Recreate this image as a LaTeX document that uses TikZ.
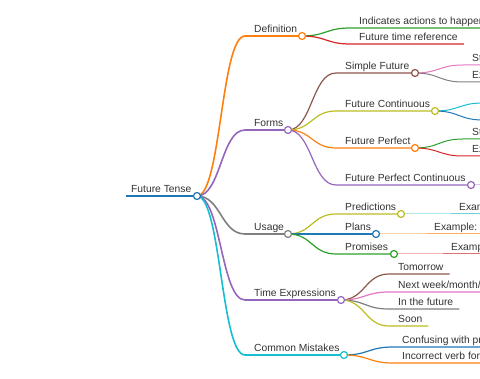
\documentclass[tikz,border=0pt]{standalone}
\usepackage{fontspec}
\setmainfont{Liberation Sans}
\usetikzlibrary{calc}

\definecolor{cblue}{HTML}{1F77B4}
\definecolor{corange}{HTML}{FF7F0E}
\definecolor{cgreen}{HTML}{2CA02C}
\definecolor{cred}{HTML}{D62728}
\definecolor{cpurple}{HTML}{9467BD}
\definecolor{cbrown}{HTML}{8C564B}
\definecolor{cpink}{HTML}{E377C2}
\definecolor{cgray}{HTML}{7F7F7F}
\definecolor{colive}{HTML}{BCBD22}
\definecolor{ccyan}{HTML}{17BECF}
\definecolor{ctext}{HTML}{333333}

\tikzset{
  lbl/.style={anchor=base west, inner sep=0pt, text=ctext, font=\fontsize{10.3}{12}\selectfont},
  dot/.style={circle, fill=white, inner sep=0pt, minimum size=7pt, line width=1.2pt}
}

% start of line, circle, label
\newcommand{\mmnode}[5]{%
  \coordinate (#1S) at (#2,#4);
  \coordinate (#1) at (#3,#4);
  \node[lbl] (#1T) at ($(#1S)+(9,-3.3)$) {#5};}
% leaf: line ends just after its label
\newcommand{\mmleaf}[4]{%
  \coordinate (#1S) at (#2,#3);
  \node[lbl] (#1T) at ($(#1S)+(9,-3.3)$) {#4};
  \path (#1S -| #1T.east) ++(6,0) coordinate (#1);}
% leaf whose label lies off the page
\newcommand{\mmend}[3]{%
  \coordinate (#1S) at (#2,#3);
  \coordinate (#1) at (540,#3);}
% curved link from a parent circle to a child line
\newcommand{\mmlink}[4]{%
  \coordinate (mid) at ($(#3)!0.5!(#4S)$);
  \draw[#1, line width=#2] (#3) .. controls (mid |- #3) and (mid |- #4S) .. (#4S) -- (#4);}

\begin{document}
\begin{tikzpicture}[x=1pt,y=-1pt]
    \useasboundingbox (0,0) rectangle (480,379);
    \clip (0,0) rectangle (480,379);

    % root
    \coordinate (rootS) at (126,196);
    \coordinate (root) at (197,196);
    \node[lbl] (rootT) at (131,192.7) {Future Tense};

    % main branches
    \mmnode{def}{245}{302}{36}{Definition}
    \mmnode{forms}{245}{288}{130}{Forms}
    \mmnode{usage}{245}{288}{234}{Usage}
    \mmnode{timex}{245}{341}{300}{Time Expressions}
    \mmnode{mist}{245}{344}{355}{Common Mistakes}

    % definition
    \mmleaf{indic}{350}{28}{Indicates actions to happen in the future}
    \mmleaf{ref}{350}{44}{Future time reference}

    % forms
    \mmnode{simple}{336}{415}{73}{Simple Future}
    \mmnode{cont}{336}{435}{111}{Future Continuous}
    \mmnode{perf}{336}{415}{148}{Future Perfect}
    \mmnode{perfc}{336}{471}{185}{Future Perfect Continuous}
    \mmleaf{simpleA}{463}{65}{Structure: will + base verb}
    \mmleaf{simpleB}{463}{82}{Example: I will go}
    \mmend{contA}{483}{103}
    \mmend{contB}{483}{120}
    \mmleaf{perfA}{463}{139}{Structure: will have + past participle}
    \mmleaf{perfB}{463}{156}{Example: I will have finished}
    \mmend{perfcA}{519}{185}

    % usage
    \mmnode{pred}{336}{401}{214}{Predictions}
    \mmnode{plans}{336}{376}{234}{Plans}
    \mmnode{prom}{336}{394}{254}{Promises}
    \mmleaf{predA}{450}{214}{Example: It will rain}
    \mmleaf{plansA}{425}{234}{Example: I am going to travel}
    \mmleaf{promA}{442}{254}{Example: I will call you}

    % time expressions
    \mmleaf{tomor}{389}{274}{Tomorrow}
    \mmleaf{next}{389}{292}{Next week/month/year}
    \mmleaf{infut}{389}{309}{In the future}
    \mmleaf{soon}{389}{326}{Soon}

    % common mistakes
    \mmleaf{conf}{393}{347}{Confusing with present tense}
    \mmleaf{incor}{393}{363}{Incorrect verb forms}

    % links
    \draw[cblue, line width=2.2pt] (rootS) -- (root);
    \mmlink{corange}{1.6pt}{root}{def}
    \mmlink{cpurple}{1.6pt}{root}{forms}
    \mmlink{cgray}{1.6pt}{root}{usage}
    \mmlink{cpurple}{1.6pt}{root}{timex}
    \mmlink{ccyan}{1.6pt}{root}{mist}

    \mmlink{cgreen}{1.2pt}{def}{indic}
    \mmlink{cred}{1.2pt}{def}{ref}
    \mmlink{cbrown}{1.2pt}{forms}{simple}
    \mmlink{colive}{1.2pt}{forms}{cont}
    \mmlink{corange}{1.2pt}{forms}{perf}
    \mmlink{cpurple}{1.2pt}{forms}{perfc}
    \mmlink{colive}{1.2pt}{usage}{pred}
    \mmlink{cblue}{1.2pt}{usage}{plans}
    \mmlink{cgreen}{1.2pt}{usage}{prom}
    \mmlink{cbrown}{1.2pt}{timex}{tomor}
    \mmlink{cpink}{1.2pt}{timex}{next}
    \mmlink{cgray}{1.2pt}{timex}{infut}
    \mmlink{colive}{1.2pt}{timex}{soon}
    \mmlink{cblue}{1.2pt}{mist}{conf}
    \mmlink{corange}{1.2pt}{mist}{incor}

    \mmlink{cpink}{1pt}{simple}{simpleA}
    \mmlink{cgray}{1pt}{simple}{simpleB}
    \mmlink{ccyan}{1pt}{cont}{contA}
    \mmlink{cblue}{1pt}{cont}{contB}
    \mmlink{cgreen}{1pt}{perf}{perfA}
    \mmlink{cred}{1pt}{perf}{perfB}
    \mmlink{cpurple}{1pt}{perfc}{perfcA}
    \mmlink{ccyan}{1pt}{pred}{predA}
    \mmlink{corange}{1pt}{plans}{plansA}
    \mmlink{cred}{1pt}{prom}{promA}

    % circles
    \foreach \n/\c in {root/cblue, def/corange, forms/cpurple, usage/cgray,
        timex/cpurple, mist/ccyan, simple/cbrown, cont/colive, perf/corange,
        perfc/cpurple, pred/colive, plans/cblue, prom/cgreen}
      \node[dot, draw=\c] at (\n) {};
\end{tikzpicture}
\end{document}
